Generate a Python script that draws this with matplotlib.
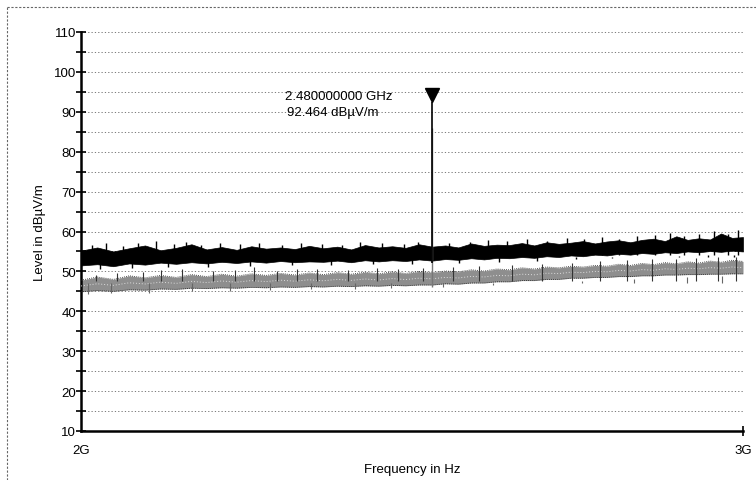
import matplotlib
matplotlib.use("Agg")
import matplotlib.pyplot as plt
from matplotlib.ticker import FixedLocator, NullFormatter
from matplotlib.lines import Line2D

plt.rcParams['font.family'] = ['Liberation Sans', 'DejaVu Sans']

# ---- data ----
freq_ghz = [2.00, 2.02, 2.04, 2.06, 2.08, 2.10, 2.12, 2.14, 2.16, 2.18,
            2.20, 2.22, 2.24, 2.26, 2.28, 2.30, 2.32, 2.34, 2.36, 2.38,
            2.40, 2.42, 2.44, 2.46, 2.48, 2.50, 2.52, 2.54, 2.56, 2.58,
            2.60, 2.62, 2.64, 2.66, 2.68, 2.70, 2.72, 2.74, 2.76, 2.78,
            2.80, 2.82, 2.84, 2.86, 2.88, 2.90, 2.92, 2.94, 2.96, 2.98, 3.00]

peak_hi = [55.2, 56.0, 55.0, 55.8, 56.5, 55.3, 55.9, 56.8, 55.5, 56.1,
           55.4, 56.3, 55.7, 56.0, 55.6, 56.4, 55.8, 56.2, 55.5, 56.6,
           56.0, 56.3, 55.9, 56.8, 56.2, 56.5, 56.0, 57.0, 56.4, 56.7,
           56.6, 57.1, 56.5, 57.3, 56.9, 57.2, 57.6, 57.0, 57.5, 57.8,
           57.3, 57.9, 58.2, 57.6, 58.8, 57.9, 58.3, 58.0, 59.5, 58.4, 58.6]
peak_lo = [51.5, 51.8, 51.3, 52.0, 51.7, 52.2, 51.9, 52.3, 52.0, 52.4,
           52.1, 52.5, 52.2, 52.6, 52.3, 52.5, 52.4, 52.7, 52.3, 52.8,
           52.5, 52.8, 52.6, 53.0, 52.7, 53.1, 52.9, 53.3, 53.0, 53.4,
           53.3, 53.6, 53.4, 53.8, 53.6, 54.0, 53.8, 54.2, 54.0, 54.4,
           54.2, 54.6, 54.4, 54.8, 54.6, 55.0, 54.8, 55.1, 54.9, 55.2, 55.0]

avg_hi = [47.8, 48.6, 48.0, 48.9, 48.4, 49.0, 48.5, 49.2, 48.7, 49.3,
          48.8, 49.4, 49.0, 49.5, 49.1, 49.6, 49.2, 49.7, 49.3, 49.8,
          49.4, 49.9, 49.5, 50.0, 49.7, 50.1, 49.9, 50.4, 50.1, 50.6,
          50.4, 50.9, 50.6, 51.1, 50.9, 51.3, 51.1, 51.5, 51.3, 51.8,
          51.5, 52.0, 51.7, 52.2, 51.9, 52.4, 52.1, 52.6, 52.3, 52.8, 52.5]
avg_lo = [44.9, 45.2, 45.0, 45.4, 45.3, 45.6, 45.5, 45.8, 45.7, 45.9,
          45.8, 46.0, 45.9, 46.1, 46.0, 46.2, 46.1, 46.3, 46.2, 46.4,
          46.3, 46.5, 46.4, 46.6, 46.6, 46.9, 46.8, 47.1, 47.1, 47.4,
          47.4, 47.7, 47.7, 48.0, 48.0, 48.3, 48.3, 48.5, 48.5, 48.7,
          48.7, 48.9, 48.9, 49.1, 49.1, 49.2, 49.2, 49.3, 49.3, 49.4, 49.4]

# single noise excursions above / below the traces
peak_up_f = [2.013, 2.031, 2.052, 2.071, 2.094, 2.117, 2.133, 2.152, 2.178, 2.205,
             2.231, 2.262, 2.289, 2.318, 2.347, 2.372, 2.405, 2.437, 2.458, 2.505,
             2.538, 2.566, 2.597, 2.628, 2.661, 2.694, 2.722, 2.752, 2.781, 2.812,
             2.843, 2.868, 2.893, 2.921, 2.948, 2.972, 2.991]
peak_up_v = [56.6, 57.0, 56.4, 57.2, 57.6, 56.9, 57.3, 56.7, 57.1, 56.8,
             57.0, 56.6, 57.2, 56.9, 56.7, 57.4, 57.0, 56.8, 57.3, 57.2,
             57.4, 57.8, 57.5, 58.0, 57.7, 58.3, 58.0, 58.6, 58.2, 58.9,
             59.1, 59.6, 58.9, 59.4, 60.1, 59.3, 60.4]
peak_dn_f = [2.024, 2.063, 2.109, 2.162, 2.218, 2.276, 2.331, 2.392, 2.449, 2.521,
             2.583, 2.645, 2.709, 2.768, 2.827, 2.884, 2.937, 2.983]
peak_dn_v = [50.6, 50.9, 51.1, 51.2, 51.4, 51.6, 51.5, 51.8, 51.9, 52.1,
             52.4, 52.7, 53.0, 53.3, 53.6, 53.9, 54.1, 54.2]

avg_up_f = [2.018, 2.045, 2.077, 2.101, 2.128, 2.169, 2.198, 2.224, 2.255, 2.283,
            2.311, 2.356, 2.398, 2.429, 2.466, 2.512, 2.552, 2.604, 2.652, 2.701,
            2.748, 2.795, 2.838, 2.879, 2.915, 2.955, 2.988]
avg_up_v = [49.2, 49.6, 49.9, 50.3, 50.6, 50.1, 50.4, 51.0, 50.2, 50.5,
            50.7, 50.3, 50.8, 50.5, 50.9, 51.0, 51.3, 51.6, 51.9, 52.2,
            52.5, 52.9, 53.0, 53.2, 53.4, 53.6, 53.5]
avg_dn_f = [2.008, 2.037, 2.085, 2.141, 2.191, 2.246, 2.302, 2.366, 2.418, 2.497,
            2.574, 2.637, 2.718, 2.806, 2.898, 2.962]
avg_dn_v = [44.4, 44.5, 44.7, 45.0, 45.2, 45.3, 45.5, 45.7, 45.8, 46.0,
            46.6, 47.0, 47.5, 48.2, 48.6, 48.8]

marker_f_ghz = 2.48
marker_level = 92.464
avg_at_marker = 86.0

y_major = [10, 20, 30, 40, 50, 60, 70, 80, 90, 100, 110]
y_minor = [15, 25, 35, 45, 55, 65, 75, 85, 95, 105]
x_ticks_ghz = [2.0, 3.0]
x_tick_labels = ["2G", "3G"]

# ---- figure ----
fig = plt.figure(figsize=(7.56, 4.81), dpi=100)
ax = fig.add_axes([81/756, 1-432/481, (743-81)/756, (432-33)/481])

G = 1e9
f = [v*G for v in freq_ghz]
ax.set_xscale('log')
ax.set_xlim(2e9, 3e9)
ax.set_ylim(10, 110)

# grid lines every 5 dB
for yv in y_major[1:] + y_minor:
    ax.axhline(yv, color='#666666', lw=0.6, ls=(0, (1.5, 2.5)), zorder=1)
ax.axvline(3e9, color='#666666', lw=0.6, ls=(0, (1.5, 2.5)), zorder=1)

# average trace (grey, speckled)
ax.fill_between(f, avg_lo, avg_hi, color='#8e8e8e', lw=0, zorder=2)
ax.plot(f, avg_hi, color='#222222', lw=0.6, ls=(0, (1, 1.5)), zorder=3)
ax.plot(f, avg_lo, color='#222222', lw=0.6, ls=(0, (1, 1.5)), zorder=3)
mid_avg = [(a + b) / 2 for a, b in zip(avg_lo, avg_hi)]
ax.plot(f, mid_avg, color='#dddddd', lw=0.7, ls=(0, (1, 2)), zorder=3)
ax.vlines([v*G for v in avg_up_f], 47.5, avg_up_v, color='#333333', lw=0.8, zorder=3)
ax.vlines([v*G for v in avg_dn_f], avg_dn_v, 47.0, color='#666666', lw=0.8, zorder=3)

# peak trace (black)
ax.fill_between(f, peak_lo, peak_hi, color='black', lw=0.5, edgecolor='black', zorder=4)
ax.vlines([v*G for v in peak_up_f], 54, peak_up_v, color='black', lw=1.0, zorder=4)
ax.vlines([v*G for v in peak_dn_f], peak_dn_v, 53.5, color='black', lw=1.0, zorder=4)

# signal at marker
ax.vlines(marker_f_ghz*G, 46, avg_at_marker, color='#777777', lw=1.0, zorder=4)
ax.vlines(marker_f_ghz*G, 52, marker_level, color='black', lw=1.2, zorder=5)
ax.plot([marker_f_ghz*G], [marker_level + 1.7], marker='v', color='black',
        markersize=10, zorder=6)

ax.annotate("2.480000000 GHz", xy=(marker_f_ghz*G, marker_level), xytext=(-147, 6),
            textcoords='offset pixels', ha='left', va='center', fontsize=9.5, zorder=7)
ax.annotate("92.464 dBµV/m", xy=(marker_f_ghz*G, marker_level), xytext=(-145, -10),
            textcoords='offset pixels', ha='left', va='center', fontsize=9.5, zorder=7)

# spines
for s in ['top', 'right']:
    ax.spines[s].set_visible(False)
ax.spines['left'].set_linewidth(1.8)
ax.spines['bottom'].set_linewidth(1.8)

ax.yaxis.set_major_locator(FixedLocator(y_major))
ax.yaxis.set_minor_locator(FixedLocator(y_minor))
ax.yaxis.set_minor_formatter(NullFormatter())
ax.set_xticks([v*G for v in x_ticks_ghz])
ax.set_xticklabels(x_tick_labels)
ax.xaxis.set_minor_locator(FixedLocator([]))
ax.tick_params(axis='y', which='both', direction='inout', length=7, width=1.2,
               pad=0, labelsize=9.5)
ax.tick_params(axis='x', which='major', direction='inout', length=7, width=1.2,
               pad=6, labelsize=9.5)
ax.xaxis.get_major_ticks()[0].tick1line.set_visible(False)

ax.set_xlabel("Frequency in Hz", fontsize=9.5, labelpad=5)
ax.set_ylabel("Level in dBµV/m", fontsize=9.5, labelpad=6)

# outer dashed frame (left and top)
fig.add_artist(Line2D([7/756, 7/756], [0, 1-8/481], transform=fig.transFigure,
                      color='#666666', lw=0.8, ls=(0, (2, 1.5))))
fig.add_artist(Line2D([7/756, 1], [1-8/481, 1-8/481], transform=fig.transFigure,
                      color='#666666', lw=0.8, ls=(0, (2, 1.5))))

fig.savefig("out.png", dpi=100)
